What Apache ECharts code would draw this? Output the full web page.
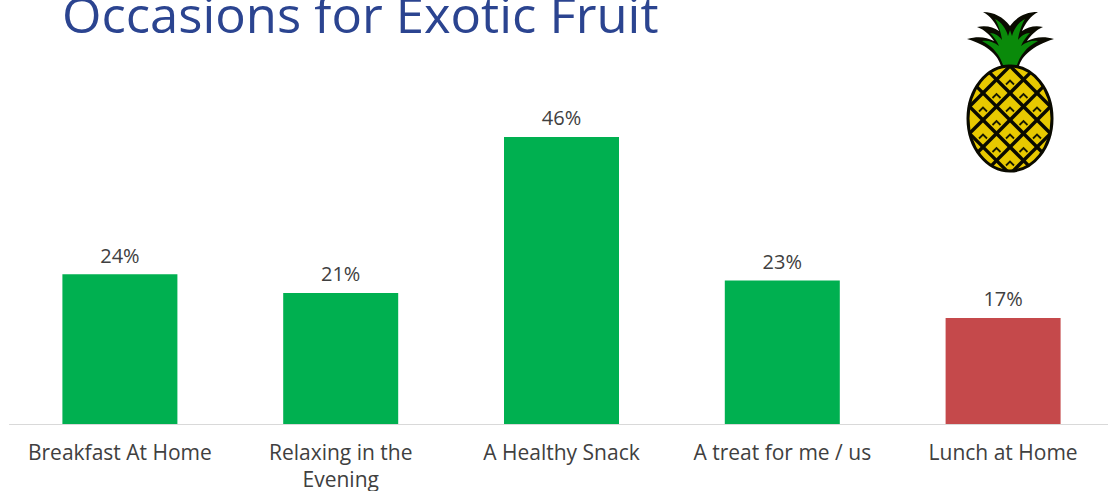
<!DOCTYPE html>
<html>
<head>
<meta charset="utf-8">
<style>html,body{margin:0;padding:0;background:#fff}#chart{width:1108px;height:491px}#chart text{font-variant-ligatures:none}</style>
<script src="https://cdn.jsdelivr.net/npm/echarts@6/dist/echarts.min.js"></script>
</head>
<body>
<div id="chart"></div>
<script>
// Occasion shares for exotic fruit
const titleText = 'Occasions for Exotic Fruit';
const categories = ['Breakfast At Home', 'Relaxing in the\nEvening', 'A Healthy Snack', 'A treat for me / us', 'Lunch at Home'];
const shares = [24, 21, 46, 23, 17];
const barColors = ['#00b050', '#00b050', '#00b050', '#00b050', '#c5494b'];

// Pineapple emblem: body ellipse, diagonal rind lattice, chevrons and crown
const body = { cx: 1010, cy: 118.5, rx: 42, ry: 52.5 };
const cell = 27;

function latticeLines() {
  const out = [];
  [1, -1].forEach(slope => {
    for (let k = -5; k <= 5; k++) {
      // y = cy + slope * (x - cx) + c, intersected with the ellipse
      const c = k * cell + 1.5;
      const A = 1 / (body.rx * body.rx) + 1 / (body.ry * body.ry);
      const B = 2 * slope * c / (body.ry * body.ry);
      const C = c * c / (body.ry * body.ry) - 1;
      const d = B * B - 4 * A * C;
      if (d <= 0) continue;
      const u1 = (-B - Math.sqrt(d)) / (2 * A), u2 = (-B + Math.sqrt(d)) / (2 * A);
      out.push({
        type: 'line', silent: true, z: 12,
        shape: {
          x1: body.cx + u1, y1: body.cy + slope * u1 + c,
          x2: body.cx + u2, y2: body.cy + slope * u2 + c
        },
        style: { stroke: '#0a0a00', lineWidth: 3.4 }
      });
    }
  });
  return out;
}

function chevrons() {
  const out = [];
  const h = cell / 2;
  for (let i = -3; i <= 3; i++) {
    for (let j = -4; j <= 4; j++) {
      if ((i + j) % 2 === 0) continue;
      const x = body.cx + i * h, y = 120 + j * h + 2;
      const e = ((x - body.cx) / body.rx) ** 2 + ((y - body.cy) / body.ry) ** 2;
      if (e > 0.72) continue;
      out.push({
        type: 'polyline', silent: true, z: 12,
        shape: { points: [[x - 4, y + 3], [x, y - 1], [x + 4, y + 3]] },
        style: { stroke: '#1a1a00', lineWidth: 1.8, fill: null }
      });
    }
  }
  return out;
}

const crownOuter = 'M1001 66 C998 56 990 46 967 39 C978 36 986 37 994 41 C990 35 985 30 977 27 C986 25 993 27 999 31 C996 24 991 16 983 12 C994 12 1003 17 1010 26 C1017 17 1025 12 1038 12 C1030 16 1025 24 1022 31 C1028 27 1035 25 1043 27 C1036 30 1031 35 1027 41 C1035 37 1044 36 1054 39 C1032 46 1022 56 1019 66 Z';
const crownInner = 'M1003 65 C1000 56 994 47 982 41 C988 40 994 42 999 46 C997 41 993 36 990 33 C995 33 999 36 1002 40 C1001 32 998 24 995 19 C1001 22 1006 28 1008 36 L1010 30 L1012 36 C1014 28 1019 22 1025 19 C1022 24 1019 32 1018 40 C1021 36 1025 33 1030 33 C1027 36 1023 41 1021 46 C1026 42 1032 40 1038 41 C1026 47 1020 56 1017 65 Z';
echarts.graphic.registerShape('crownOuter', echarts.graphic.extendPath(crownOuter));
echarts.graphic.registerShape('crownInner', echarts.graphic.extendPath(crownInner));

const chart = echarts.init(document.getElementById('chart'), null, { renderer: 'svg' });
chart.setOption({
  animation: false,
  backgroundColor: '#ffffff',
  grid: { left: 9.5, right: -5.5, top: 112, bottom: 67, outerBoundsMode: 'none' },
  xAxis: {
    type: 'category',
    data: categories,
    axisTick: { show: false },
    axisLine: { lineStyle: { color: '#d9d9d9', width: 1 } },
    axisLabel: { color: '#404040', fontFamily: 'Open Sans', fontSize: 21, margin: 14, lineHeight: 27, interval: 0 }
  },
  yAxis: { type: 'value', min: 0, max: 50, show: false, splitLine: { show: false } },
  series: [{
    type: 'bar',
    barWidth: 115,
    data: shares.map((v, i) => ({ value: v, itemStyle: { color: barColors[i] } })),
    label: {
      show: true, position: 'top', distance: 9,
      formatter: p => p.value + '%',
      color: '#404040', fontFamily: 'Open Sans', fontSize: 20
    }
  }],
  graphic: [
    {
      type: 'text', x: 62, y: -10, scaleX: 1.036, z: 10, silent: true,
      style: { text: titleText, fill: '#2b4490', font: '400 49px "Open Sans"' }
    },
    { type: 'crownOuter', silent: true, z: 10, style: { fill: '#0a0a00' } },
    { type: 'crownInner', silent: true, z: 11, style: { fill: '#0a8a0a' } },
    {
      type: 'ellipse', silent: true, z: 11,
      shape: body,
      style: { fill: '#e8c900', stroke: '#0a0a00', lineWidth: 3 }
    },
    ...latticeLines(),
    ...chevrons()
  ]
});
</script>
</body>
</html>
